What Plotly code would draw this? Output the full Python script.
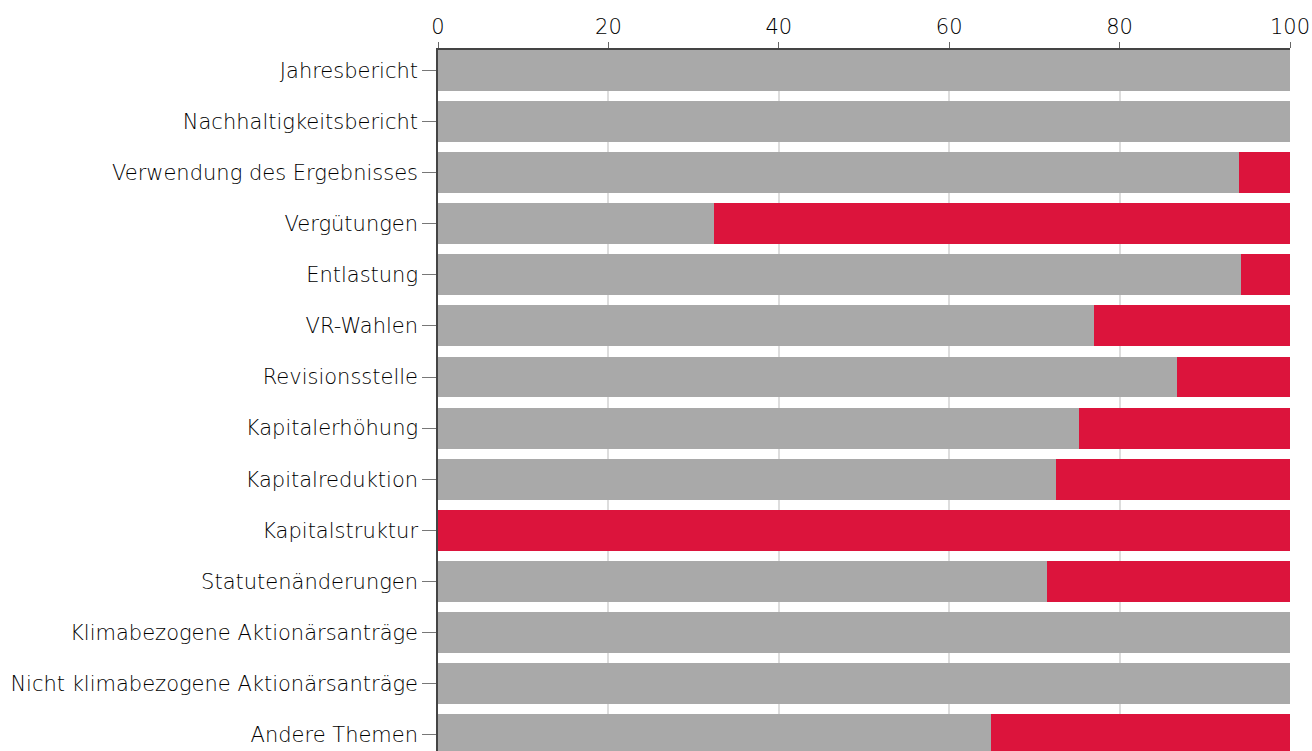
import plotly.graph_objects as go

categories = [
    "Jahresbericht",
    "Nachhaltigkeitsbericht",
    "Verwendung des Ergebnisses",
    "Vergütungen",
    "Entlastung",
    "VR-Wahlen",
    "Revisionsstelle",
    "Kapitalerhöhung",
    "Kapitalreduktion",
    "Kapitalstruktur",
    "Statutenänderungen",
    "Klimabezogene Aktionärsanträge",
    "Nicht klimabezogene Aktionärsanträge",
    "Andere Themen",
]
dafuer = [100, 100, 94.0, 32.4, 94.2, 77.0, 86.7, 75.2, 72.5, 0, 71.5, 100, 100, 64.9]
dagegen = [0, 0, 6.0, 67.6, 5.8, 23.0, 13.3, 24.8, 27.5, 100, 28.5, 0, 0, 35.1]
x_ticks = [0, 20, 40, 60, 80, 100]

font_family = "DejaVu Sans"
font_weight = 300
text_color = "#000000"

fig = go.Figure()
fig.add_trace(go.Bar(
    y=categories, x=dafuer, orientation="h", name="Dafür",
    marker=dict(color="#a9a9a9", line=dict(width=0)),
))
fig.add_trace(go.Bar(
    y=categories, x=dagegen, orientation="h", name="Dagegen",
    marker=dict(color="#dc143c", line=dict(width=0)),
))

fig.update_layout(
    barmode="stack",
    bargap=0.2,
    width=1312,
    height=751,
    margin=dict(l=438, r=22, t=50, b=0, pad=0),
    plot_bgcolor="white",
    paper_bgcolor="white",
    showlegend=False,
    font=dict(family=font_family, size=21, color=text_color, weight=font_weight),
)
fig.update_xaxes(
    side="top",
    range=[0, 100],
    tickvals=x_ticks,
    ticktext=[str(v) for v in x_ticks],
    showgrid=True,
    gridcolor="#dddddd",
    gridwidth=2,
    showline=True,
    linecolor="#444444",
    linewidth=1.5,
    ticks="outside",
    ticklen=6,
    tickcolor="#666666",
    tickfont=dict(family=font_family, size=21, color=text_color, weight=font_weight),
    zeroline=False,
)
fig.update_yaxes(
    type="category",
    categoryorder="array",
    categoryarray=categories,
    range=[13.32, -0.4],
    showgrid=False,
    showline=True,
    linecolor="#444444",
    linewidth=1.5,
    ticks="outside",
    ticklen=14,
    tickcolor="#777777",
    tickfont=dict(family=font_family, size=21, color=text_color, weight=font_weight),
    ticklabelstandoff=0,
)

fig.write_html(
    "out.html",
    config={"displayModeBar": False},
    post_script=(
        "document.body.style.margin='0';"
        "document.body.style.overflow='hidden';"
        "document.documentElement.style.overflow='hidden';"
    ),
)
